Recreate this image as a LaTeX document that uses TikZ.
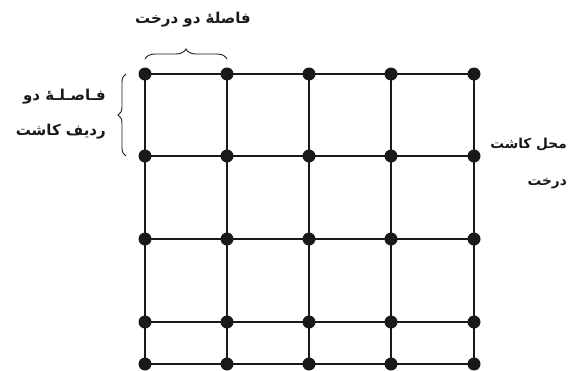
\documentclass[tikz,border=0pt]{standalone}
\usepackage{fontspec}
\newfontfamily\arabicfont[Script=Arabic]{DejaVu Sans}
\TeXXeTstate=1
\usetikzlibrary{decorations.pathreplacing}
\begin{document}
\begin{tikzpicture}[x=1pt,y=-1pt,
  dot/.style={circle,fill=black!90,inner sep=0pt,minimum size=13pt},
  gridline/.style={line width=1.8pt,black!90},
  bracestyle/.style={line width=0.9pt,black!90,decorate},
  label/.style={font=\arabicfont\bfseries\fontsize{15}{35}\selectfont,inner sep=0pt,text=black!90}]
\useasboundingbox (0,0) rectangle (579,370);
% dots
\foreach \c/\x in {1/145,2/227,3/309,4/391,5/474}{
  \foreach \r/\y in {1/74,2/156,3/239,4/322,5/364}{
    \node[dot] (d\r\c) at (\x,\y) {};
  }
}
% horizontal lines
\foreach \r in {1,...,5}{
  \draw[gridline] (d\r1.center) -- (d\r5.center);
}
% vertical lines
\foreach \c in {1,...,5}{
  \draw[gridline] (d1\c.center) -- (d5\c.center);
}
% braces
\coordinate (tb1) at ([yshift=15pt]d11.center);
\coordinate (tb2) at ([yshift=15pt]d12.center);
\draw[bracestyle,decoration={brace,amplitude=10pt}] (tb1) -- (tb2);
\coordinate (lb1) at ([xshift=-19pt]d21.center);
\coordinate (lb2) at ([xshift=-19pt]d11.center);
\draw[bracestyle,decoration={brace,amplitude=8pt}] (lb1) -- (lb2);
% labels
\node[label] (ttop) at (193,20) {\beginR فاصلهٔ دو درخت\endR};
\node[label,align=right,anchor=east] (tleft) at (106,114.5)
  {\beginR فـاصـلـهٔ دو\endR\\\beginR ردیف کاشت\endR};
\node[label,align=right,anchor=east,font=\arabicfont\bfseries\fontsize{13.7}{37}\selectfont] (tright) at (567,163.5)
  {\beginR محل کاشت\endR\\\beginR درخت\endR};
\end{tikzpicture}
\end{document}
